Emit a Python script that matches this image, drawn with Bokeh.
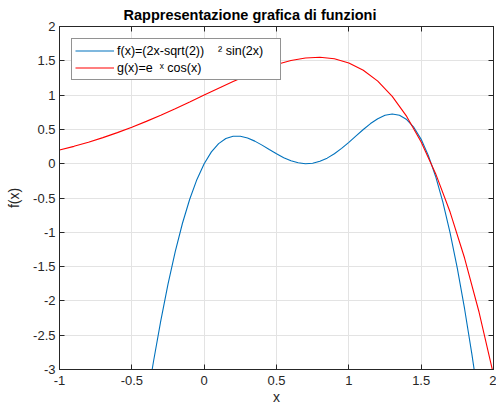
from bokeh.plotting import figure
from bokeh.models import Range1d, LinearAxis, FixedTicker, Legend, LegendItem
from bokeh.embed import file_html
from bokeh.resources import INLINE

# ---- data ----
f_x = [-0.40, -0.35, -0.30, -0.25, -0.20, -0.15, -0.10, -0.05, 0.00, 0.05,
       0.10, 0.15, 0.20, 0.25, 0.30, 0.35, 0.40, 0.45, 0.50, 0.55,
       0.60, 0.65, 0.70, 0.75, 0.80, 0.85, 0.90, 0.95, 1.00, 1.05,
       1.10, 1.15, 1.20, 1.25, 1.30, 1.35, 1.40, 1.45, 1.50, 1.55,
       1.60, 1.65, 1.70, 1.75, 1.80, 1.85, 1.90]
f_y = [-3.517, -2.880, -2.291, -1.757, -1.282, -0.868, -0.518, -0.229, 0.000, 0.172,
       0.293, 0.367, 0.401, 0.401, 0.374, 0.329, 0.271, 0.207, 0.144, 0.088,
       0.043, 0.013, 0.000, 0.007, 0.035, 0.081, 0.145, 0.223, 0.312, 0.406,
       0.499, 0.585, 0.656, 0.706, 0.725, 0.707, 0.643, 0.528, 0.355, 0.118,
       -0.186, -0.561, -1.008, -1.526, -2.114, -2.768, -3.483]

g_x = [-1.0, -0.9, -0.8, -0.7, -0.6, -0.5, -0.4, -0.3, -0.2, -0.1,
       0.0, 0.1, 0.2, 0.3, 0.4, 0.5, 0.6, 0.7, 0.8, 0.9,
       1.0, 1.1, 1.2, 1.3, 1.4, 1.5, 1.6, 1.7, 1.8, 1.9, 2.0]
g_y = [0.199, 0.253, 0.313, 0.380, 0.453, 0.532, 0.617, 0.708, 0.802, 0.900,
       1.000, 1.100, 1.197, 1.290, 1.374, 1.447, 1.504, 1.540, 1.551, 1.529,
       1.469, 1.363, 1.203, 0.982, 0.689, 0.317, -0.145, -0.705, -1.375, -2.162, -3.075]

x_ticks = [-1, -0.5, 0, 0.5, 1, 1.5, 2]
x_tick_labels = ["-1", "-0.5", "0", "0.5", "1", "1.5", "2"]
y_ticks = [-3, -2.5, -2, -1.5, -1, -0.5, 0, 0.5, 1, 1.5, 2]
y_tick_labels = ["-3", "-2.5", "-2", "-1.5", "-1", "-0.5", "0", "0.5", "1", "1.5", "2"]

title_text = "Rappresentazione grafica di funzioni"
x_label = "x"
y_label = "f(x)"
f_label = "f(x)=(2x-sqrt(2))    \u00b2 sin(2x)    "
g_label = "g(x)=e  \u02e3 cos(x)"

FONT = "Liberation Sans"
AX = "#262626"

p = figure(width=496, height=407, output_backend="svg", toolbar_location=None,
           x_range=Range1d(-1, 2), y_range=Range1d(-3, 2),
           min_border_left=59, min_border_right=3, min_border_top=26,
           min_border_bottom=38)
p.background_fill_color = "white"
p.border_fill_color = "white"
p.outline_line_color = AX
p.outline_line_width = 1

p.title.text = title_text
p.title.align = "left"
p.title.offset = 64
p.title.standoff = 7
p.title.text_font = FONT
p.title.text_font_size = "14.5px"
p.title.text_font_style = "bold"
p.title.text_color = "black"

fl = p.line(f_x, f_y, line_color="#0072BD", line_width=1.1)
gl = p.line(g_x, g_y, line_color="#FF0000", line_width=1.1)

def style_axis(ax, ticks, labels, show_labels=True):
    ax.ticker = FixedTicker(ticks=ticks)
    ax.axis_line_color = AX
    ax.major_tick_line_color = AX
    ax.major_tick_in = 5
    ax.major_tick_out = 0
    ax.minor_tick_in = 0
    ax.minor_tick_out = 0
    if show_labels:
        ax.major_label_overrides = {t: l for t, l in zip(ticks, labels)}
        ax.major_label_text_font = FONT
        ax.major_label_text_font_size = "13px"
        ax.major_label_text_color = AX
    else:
        ax.major_label_text_color = None
        ax.major_label_standoff = 0
    ax.axis_label_text_font = FONT
    ax.axis_label_text_font_size = "14px"
    ax.axis_label_text_font_style = "normal"
    ax.axis_label_text_color = AX

xa = p.xaxis[0]
ya = p.yaxis[0]
style_axis(xa, x_ticks, x_tick_labels)
style_axis(ya, y_ticks, y_tick_labels)
xa.axis_label = x_label
ya.axis_label = y_label
xa.major_label_standoff = 6
xa.axis_label_standoff = 1
ya.major_label_standoff = 4
ya.axis_label_standoff = 8

top = LinearAxis()
style_axis(top, x_ticks, x_tick_labels, show_labels=False)
p.add_layout(top, "above")
right = LinearAxis()
style_axis(right, y_ticks, y_tick_labels, show_labels=False)
p.add_layout(right, "right")

p.xgrid.ticker = FixedTicker(ticks=x_ticks)
p.ygrid.ticker = FixedTicker(ticks=y_ticks)
p.grid.grid_line_color = "#e3e3e3"
p.grid.grid_line_width = 1

legend = Legend(items=[LegendItem(label=f_label, renderers=[fl]),
                       LegendItem(label=g_label, renderers=[gl])],
                location="top_left")
legend.margin = 12
legend.padding = 3
legend.spacing = 0
legend.glyph_width = 39
legend.glyph_height = 17
legend.label_height = 17
legend.label_standoff = 3
legend.label_text_font = FONT
legend.label_text_font_size = "12.5px"
legend.label_text_color = "black"
legend.border_line_color = AX
legend.border_line_width = 1
legend.background_fill_color = "white"
legend.background_fill_alpha = 1
p.add_layout(legend)

open("out.html", "w").write(file_html(p, INLINE))
